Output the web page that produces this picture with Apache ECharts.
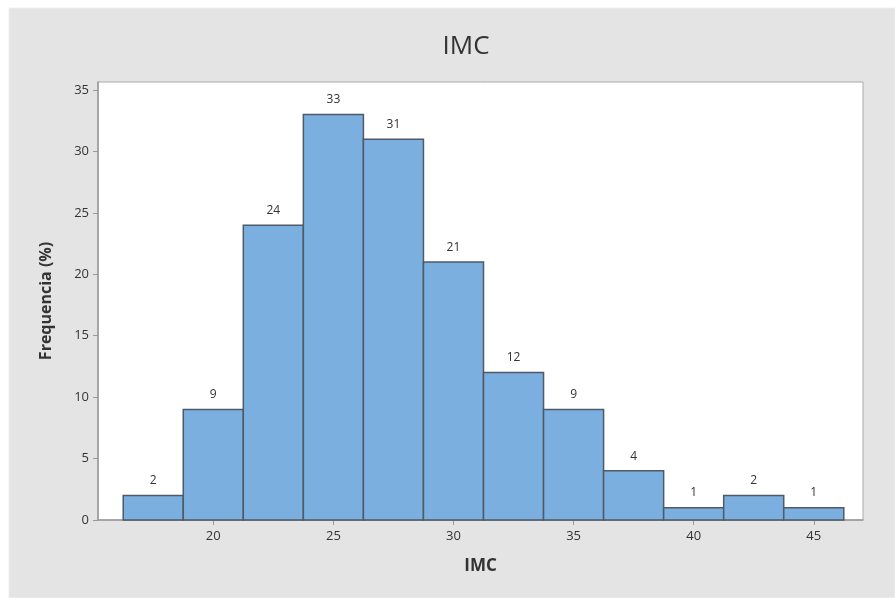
<!DOCTYPE html>
<html>
<head>
<meta charset="utf-8">
<title>IMC</title>
<script src="https://cdn.jsdelivr.net/npm/echarts@6/dist/echarts.min.js"></script>
<style>
  html, body { margin: 0; padding: 0; background: #fff; }
  #main { width: 895px; height: 598px; }
</style>
</head>
<body>
<div id="main"></div>
<script>
// histogram bins (IMC) and frequency (%)
var binStart = [16.25, 18.75, 21.25, 23.75, 26.25, 28.75, 31.25, 33.75, 36.25, 38.75, 41.25, 43.75];
var binEnd   = [18.75, 21.25, 23.75, 26.25, 28.75, 31.25, 33.75, 36.25, 38.75, 41.25, 43.75, 46.25];
var freq     = [2, 9, 24, 33, 31, 21, 12, 9, 4, 1, 2, 1];
var xTicks   = [20, 25, 30, 35, 40, 45];
var yTicks   = [0, 5, 10, 15, 20, 25, 30, 35];

var data = binStart.map(function (s, i) { return [s, binEnd[i], freq[i]]; });

var chart = echarts.init(document.getElementById('main'));
var font = "'Open Sans', 'Noto Sans', sans-serif";

chart.setOption({
  animation: false,
  textStyle: { fontFamily: font },
  graphic: [{
    type: 'rect',
    z: -10,
    shape: { x: 9, y: 8, width: 886, height: 590 },
    style: { fill: '#e3e4e3', stroke: '#eeefee', lineWidth: 1 }
  }],
  title: {
    text: 'IMC',
    left: 461,
    textAlign: 'center',
    top: 29,
    textStyle: { fontSize: 26, fontWeight: 'normal', color: '#333', fontFamily: font }
  },
  grid: {
    left: 98, top: 82, right: 32, bottom: 78,
    show: true,
    backgroundColor: '#fff',
    borderColor: '#aaa',
    borderWidth: 1
  },
  xAxis: {
    type: 'value',
    min: 15.2,
    max: 47.05,
    name: 'IMC',
    nameLocation: 'middle',
    nameGap: 38,
    nameTextStyle: { fontSize: 17, fontWeight: 'bold', color: '#333', fontFamily: font },
    splitLine: { show: false },
    axisLine: { show: true, lineStyle: { color: '#999', width: 1.5 } },
    axisTick: { show: true, length: 5, customValues: xTicks, lineStyle: { color: '#999' } },
    axisLabel: { customValues: xTicks, fontSize: 13, color: '#333', margin: 10 }
  },
  yAxis: {
    type: 'value',
    min: 0,
    max: 35.65,
    name: 'Frequencia (%)',
    nameLocation: 'middle',
    nameGap: 44,
    nameTextStyle: { fontSize: 16, fontWeight: 'bold', color: '#333', fontFamily: font },
    splitLine: { show: false },
    axisLine: { show: true, lineStyle: { color: '#999', width: 1.5 } },
    axisTick: { show: true, length: 5, customValues: yTicks, lineStyle: { color: '#999' } },
    axisLabel: { customValues: yTicks, fontSize: 13, color: '#333', margin: 9 }
  },
  series: [{
    type: 'custom',
    data: data,
    encode: { x: [0, 1], y: 2 },
    renderItem: function (params, api) {
      var p0 = api.coord([api.value(0), api.value(2)]);
      var p1 = api.coord([api.value(1), 0]);
      return {
        type: 'rect',
        shape: { x: p0[0], y: p0[1], width: p1[0] - p0[0], height: p1[1] - p0[1] },
        style: { fill: '#7bafdf', stroke: '#4e5a66', lineWidth: 1.5 },
        textContent: {
          style: { text: String(api.value(2)), fontSize: 12, fill: '#333', fontFamily: font }
        },
        textConfig: { position: 'top', distance: 8 }
      };
    }
  }]
});
</script>
</body>
</html>
